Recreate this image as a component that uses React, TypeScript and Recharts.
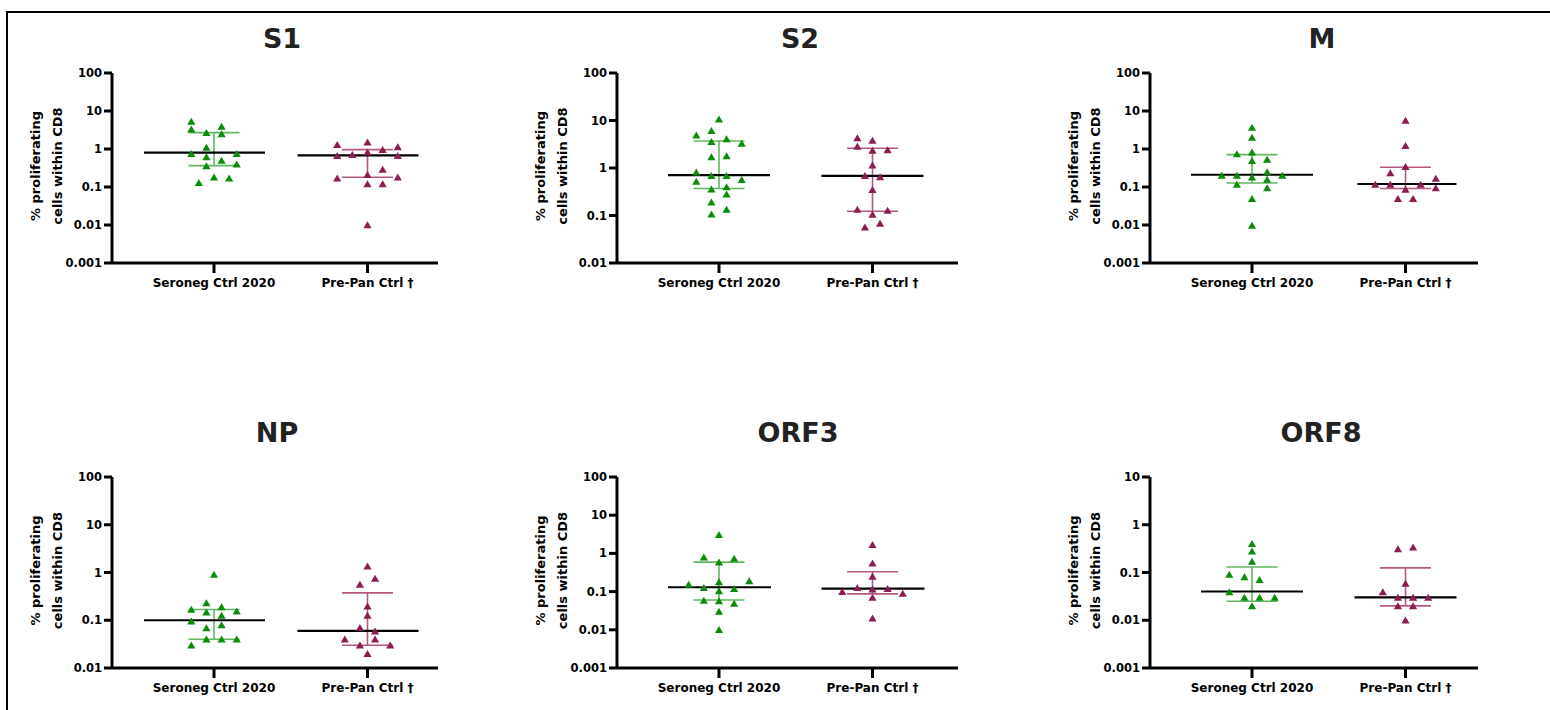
import { ScatterChart, Scatter, XAxis, YAxis, ReferenceLine } from "recharts";

const groups = ["Seroneg Ctrl 2020", "Pre-Pan Ctrl †"];
const titles = ["S1", "S2", "M", "NP", "ORF3", "ORF8"];

// each point: [jitter slot, % proliferating cells within CD8]
const s1Seroneg = [[-3, 5.3], [-3, 3.3], [-1, 2.7], [1, 3.9], [1, 2.5], [-1, 1.1], [-3, 0.75], [3, 0.75], [-1, 0.62], [1, 0.5], [3, 0.4], [-1, 0.36], [-2, 0.13], [0, 0.18], [2, 0.17]];
const s1PrePan = [[-4, 1.3], [-4, 0.67], [-2, 0.71], [0, 1.5], [0, 0.83], [2, 0.96], [4, 1.13], [4, 0.67], [2, 0.29], [0, 0.21], [-4, 0.17], [4, 0.18], [0, 0.12], [2, 0.12], [0, 0.01]];
const s2Seroneg = [[0, 10.7], [-1, 6.1], [-3, 4.9], [-1, 3.6], [1, 4.1], [3, 3.3], [-1, 1.7], [1, 1.8], [-3, 0.82], [-1, 0.69], [1, 0.69], [3, 0.57], [-3, 0.52], [-1, 0.36], [1, 0.4], [1, 0.28], [-1, 0.19], [1, 0.134], [-1, 0.107]];
const s2PrePan = [[-2, 4.3], [0, 3.8], [-2, 2.85], [0, 2.35], [2, 2.4], [0, 1.14], [-1, 0.69], [1, 0.65], [0, 0.35], [-2, 0.134], [2, 0.127], [0, 0.105], [1, 0.068], [-1, 0.057]];
const mSeroneg = [[0, 3.7], [0, 2.0], [-2, 0.74], [0, 0.82], [0, 0.49], [2, 0.53], [2, 0.25], [-4, 0.2], [-2, 0.2], [4, 0.2], [0, 0.18], [2, 0.157], [-2, 0.116], [2, 0.095], [0, 0.049], [0, 0.0098]];
const mPrePan = [[0, 5.6], [0, 1.22], [0, 0.34], [-2, 0.235], [4, 0.167], [-4, 0.116], [-2, 0.116], [2, 0.116], [4, 0.095], [0, 0.086], [-1, 0.049], [1, 0.049]];
const npSeroneg = [[0, 0.91], [-1, 0.23], [-3, 0.168], [1, 0.19], [3, 0.155], [-1, 0.148], [1, 0.126], [-3, 0.096], [1, 0.08], [-1, 0.069], [-1, 0.04], [1, 0.04], [3, 0.04], [-3, 0.03]];
const npPrePan = [[0, 1.35], [1, 0.75], [-1, 0.56], [0, 0.197], [0, 0.126], [-1, 0.07], [1, 0.059], [-3, 0.04], [1, 0.04], [-1, 0.03], [3, 0.03], [0, 0.02]];
const orf3Seroneg = [[0, 3.1], [-2, 0.8], [2, 0.74], [0, 0.59], [0, 0.18], [4, 0.19], [-4, 0.155], [-2, 0.127], [2, 0.12], [0, 0.104], [-2, 0.059], [0, 0.057], [2, 0.049], [0, 0.03], [0, 0.01]];
const orf3PrePan = [[0, 1.7], [0, 0.55], [0, 0.25], [-2, 0.127], [2, 0.12], [-4, 0.1], [0, 0.115], [4, 0.09], [0, 0.07], [0, 0.02]];
const orf8Seroneg = [[0, 0.4], [0, 0.28], [0, 0.17], [-3, 0.091], [-1, 0.081], [1, 0.071], [-3, 0.039], [-1, 0.03], [1, 0.03], [3, 0.03], [0, 0.02]];
const orf8PrePan = [[-1, 0.31], [1, 0.34], [0, 0.059], [-3, 0.039], [-1, 0.03], [1, 0.03], [3, 0.03], [-1, 0.02], [1, 0.02], [0, 0.01]];

const seronegPoints = [s1Seroneg, s2Seroneg, mSeroneg, npSeroneg, orf3Seroneg, orf8Seroneg];
const prePanPoints = [s1PrePan, s2PrePan, mPrePan, npPrePan, orf3PrePan, orf8PrePan];

// median with interquartile range
const seronegMedian = [0.8, 0.71, 0.21, 0.1, 0.13, 0.04];
const seronegLow = [0.365, 0.37, 0.128, 0.04, 0.06, 0.025];
const seronegHigh = [2.7, 3.7, 0.71, 0.168, 0.59, 0.13];
const prePanMedian = [0.68, 0.68, 0.12, 0.06, 0.12, 0.03];
const prePanLow = [0.18, 0.123, 0.091, 0.03, 0.087, 0.02];
const prePanHigh = [0.96, 2.6, 0.33, 0.375, 0.33, 0.125];

const yMin = [0.001, 0.01, 0.001, 0.01, 0.001, 0.001];
const yMax = [100, 100, 100, 100, 100, 10];

// layout (pixels)
const AXIS_X = [112, 617, 1150];
const PLOT_W = [326, 341, 328];
const PLOT_TOP = [73, 477];
const PLOT_H = [190, 191];
const TITLE_X = [282, 800, 1322, 277, 798, 1321];
const TITLE_Y = [39, 433];
const CAT_SPACING = 153.5;
const FIRST_CAT = 102;
const JITTER = 7.57 / CAT_SPACING;
const CAP = 25.5 / CAT_SPACING;
const MEDIAN_SPAN = [
  [[-70, 51], [-70, 51]],
  [[-51, 51], [-51, 51]],
  [[-61, 61], [-48, 51]],
  [[-70, 51], [-70, 51]],
  [[-51, 52], [-51, 52]],
  [[-51, 51], [-51, 51]],
];

const GREEN = "#0b8c0b";
const GREEN_BAR = "#5fb85f";
const MAROON = "#8c1c52";
const MAROON_BAR = "#b5587f";
const FONT = "'DejaVu Sans', sans-serif";

const LEFT = 110;
const TOP = 70;
const BOTTOM = 45;

const triangle = (props: any) => {
  const { cx, cy, fill } = props;
  if (cx == null || cy == null) return null;
  return (
    <polygon
      points={`${cx},${cy - 3.7} ${cx + 4.1},${cy + 3.3} ${cx - 4.1},${cy + 3.3}`}
      fill={fill}
    />
  );
};

const yLabel = (props: any) => {
  const { x, y, width, height } = props.viewBox;
  const ax = x + width;
  const cy = y + height / 2 - 2;
  const style = { fontFamily: FONT, fontWeight: 700, fontSize: 13, fill: "#000" };
  return (
    <g>
      <text x={ax - 77} y={cy} transform={`rotate(-90 ${ax - 77} ${cy})`} textAnchor="middle" dominantBaseline="central" style={style}>
        % proliferating
      </text>
      <text x={ax - 55} y={cy} transform={`rotate(-90 ${ax - 55} ${cy})`} textAnchor="middle" dominantBaseline="central" style={style}>
        cells within CD8
      </text>
    </g>
  );
};

function decades(lo: number, hi: number) {
  const out: number[] = [];
  for (let e = Math.round(Math.log10(lo)); e <= Math.round(Math.log10(hi)); e++) {
    out.push(Number(Math.pow(10, e).toFixed(Math.max(0, -e))));
  }
  return out;
}

function Panel({ i }: { i: number }) {
  const col = i % 3;
  const row = Math.floor(i / 3);
  const plotW = PLOT_W[col];
  const plotH = PLOT_H[row];
  const lo = 1 - FIRST_CAT / CAT_SPACING;
  const hi = lo + plotW / CAT_SPACING;

  const series = [
    { pts: seronegPoints[i], cat: 1, color: GREEN, bar: GREEN_BAR, med: seronegMedian[i], q1: seronegLow[i], q3: seronegHigh[i], span: MEDIAN_SPAN[i][0] },
    { pts: prePanPoints[i], cat: 2, color: MAROON, bar: MAROON_BAR, med: prePanMedian[i], q1: prePanLow[i], q3: prePanHigh[i], span: MEDIAN_SPAN[i][1] },
  ];

  const left = AXIS_X[col] - LEFT;
  const top = PLOT_TOP[row] - TOP;

  return (
    <div style={{ position: "absolute", left, top }}>
      <div
        style={{
          position: "absolute",
          left: TITLE_X[i] - left - 100,
          top: TITLE_Y[row] - top - 17,
          width: 200,
          textAlign: "center",
          fontFamily: FONT,
          fontWeight: 700,
          fontSize: 27,
          lineHeight: "34px",
          color: "#222",
        }}
      >
        {titles[i]}
      </div>
      <ScatterChart
        width={LEFT + plotW + 12}
        height={TOP + plotH + BOTTOM}
        margin={{ top: TOP, right: 12, bottom: 0, left: 0 }}
      >
        <XAxis
          type="number"
          dataKey="x"
          domain={[lo, hi]}
          allowDataOverflow
          ticks={[1, 2]}
          interval={0}
          tickFormatter={(v: number) => groups[Math.round(v) - 1]}
          height={BOTTOM}
          stroke="#000"
          strokeWidth={3}
          tickSize={10}
          tickMargin={5}
          tick={{ fill: "#000", fontSize: 12, fontWeight: 700, fontFamily: FONT }}
        />
        <YAxis
          type="number"
          dataKey="y"
          scale="log"
          domain={[yMin[i], yMax[i]]}
          allowDataOverflow
          ticks={decades(yMin[i], yMax[i])}
          interval={0}
          tickFormatter={(v: number) => String(v)}
          width={LEFT}
          stroke="#000"
          strokeWidth={3}
          tickSize={8}
          tickMargin={2}
          tick={{ fill: "#000", fontSize: 11.5, fontWeight: 700, fontFamily: FONT }}
          label={yLabel}
        />
        {series.map((s, k) => (
          <Scatter
            key={k}
            data={s.pts.map(([slot, v]) => ({ x: s.cat + slot * JITTER, y: v }))}
            fill={s.color}
            shape={triangle}
            isAnimationActive={false}
          />
        ))}
        {series.map((s, k) => [
          <ReferenceLine key={`v${k}`} segment={[{ x: s.cat, y: s.q1 }, { x: s.cat, y: s.q3 }]} stroke={s.bar} strokeWidth={1.6} ifOverflow="visible" />,
          <ReferenceLine key={`t${k}`} segment={[{ x: s.cat - CAP, y: s.q3 }, { x: s.cat + CAP, y: s.q3 }]} stroke={s.bar} strokeWidth={1.6} ifOverflow="visible" />,
          <ReferenceLine key={`b${k}`} segment={[{ x: s.cat - CAP, y: s.q1 }, { x: s.cat + CAP, y: s.q1 }]} stroke={s.bar} strokeWidth={1.6} ifOverflow="visible" />,
          <ReferenceLine
            key={`m${k}`}
            segment={[
              { x: s.cat + s.span[0] / CAT_SPACING, y: s.med },
              { x: s.cat + s.span[1] / CAT_SPACING, y: s.med },
            ]}
            stroke="#000"
            strokeWidth={2.2}
            ifOverflow="visible"
          />,
        ])}
      </ScatterChart>
    </div>
  );
}

export default function App() {
  return (
    <div style={{ position: "absolute", left: 0, top: 0, width: 1550, height: 710, background: "#fff", overflow: "hidden" }}>
      <div
        style={{
          position: "absolute",
          left: 6,
          top: 11,
          width: 1600,
          height: 800,
          borderLeft: "2px solid #000",
          borderTop: "2px solid #000",
        }}
      />
      {titles.map((_, i) => (
        <Panel key={i} i={i} />
      ))}
    </div>
  );
}
